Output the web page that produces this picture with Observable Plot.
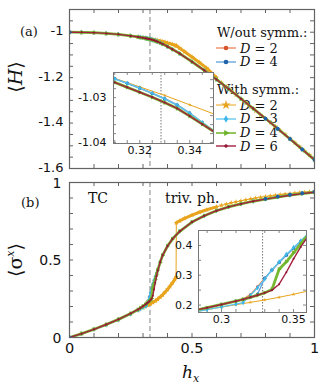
<!DOCTYPE html>
<html><head><meta charset="utf-8">
<script src="https://cdn.jsdelivr.net/npm/d3@7"></script>
<script src="https://cdn.jsdelivr.net/npm/@observablehq/plot@0.6"></script>
<style>
body{margin:0;background:#fff;}
#c{position:relative;width:327px;height:390px;overflow:hidden;background:#fff;}
.pw{position:absolute;}
.t{position:absolute;white-space:nowrap;font-family:"DejaVu Serif",serif;color:#111;line-height:1;}
.rot{transform:translate(-50%,-50%) rotate(-90deg);}
</style></head><body><div id="c"></div>
<script>
// ---------------- data ----------------
const hx = [0,0.05,0.1,0.15,0.2,0.25,0.28,0.29,0.3,0.31,0.315,0.32,0.325,0.33,0.335,0.34,0.345,0.35,0.355,0.36,0.37,0.38,0.4,0.42,0.45,0.5,0.55,0.6,0.65,0.7,0.75,0.8,0.85,0.9,0.95,1.0];

// <sigma^x>
const sxD6 = [0,0.025,0.053,0.084,0.117,0.155,0.181,0.191,0.202,0.213,0.219,0.226,0.233,0.241,0.25,0.27,0.31,0.355,0.395,0.43,0.485,0.53,0.59,0.635,0.685,0.745,0.785,0.818,0.843,0.862,0.879,0.893,0.906,0.918,0.928,0.937];
const sxD4 = [0,0.025,0.053,0.084,0.117,0.155,0.181,0.191,0.202,0.213,0.219,0.226,0.233,0.241,0.252,0.32,0.345,0.375,0.405,0.435,0.485,0.53,0.59,0.635,0.685,0.745,0.785,0.818,0.843,0.862,0.879,0.893,0.906,0.918,0.928,0.937];
const sxD3 = [0,0.025,0.052,0.082,0.114,0.151,0.176,0.185,0.194,0.203,0.208,0.232,0.258,0.287,0.317,0.345,0.37,0.393,0.415,0.438,0.485,0.53,0.59,0.635,0.685,0.745,0.785,0.818,0.843,0.862,0.879,0.894,0.908,0.92,0.93,0.938];
const sxW2 = [0,0.025,0.053,0.084,0.117,0.155,0.181,0.191,0.202,0.213,0.22,0.235,0.262,0.29,0.316,0.342,0.367,0.39,0.413,0.437,0.485,0.53,0.59,0.635,0.685,0.745,0.785,0.818,0.843,0.862,0.879,0.893,0.906,0.918,0.928,0.937];
const sxW4 = [0,0.025,0.053,0.084,0.117,0.155,0.181,0.191,0.202,0.213,0.219,0.226,0.236,0.29,0.318,0.343,0.367,0.39,0.413,0.437,0.485,0.53,0.59,0.635,0.685,0.745,0.785,0.818,0.843,0.862,0.879,0.895,0.909,0.921,0.931,0.939];

// <H>
const eD6 = [-1.0,-1.0006,-1.002,-1.0053,-1.0095,-1.0162,-1.021,-1.0228,-1.0246,-1.0266,-1.0277,-1.0288,-1.0299,-1.0311,-1.0324,-1.0341,-1.0359,-1.0377,-1.0398,-1.042,-1.0466,-1.0517,-1.063,-1.0752,-1.094,-1.13,-1.168,-1.208,-1.25,-1.293,-1.336,-1.38,-1.425,-1.47,-1.516,-1.562];
const eD4 = [-1.0,-1.0006,-1.002,-1.0053,-1.0095,-1.0162,-1.021,-1.0228,-1.0246,-1.0266,-1.0277,-1.0288,-1.0299,-1.0311,-1.0324,-1.0341,-1.0359,-1.0377,-1.0398,-1.042,-1.0466,-1.0517,-1.063,-1.0752,-1.094,-1.13,-1.168,-1.208,-1.25,-1.293,-1.336,-1.38,-1.425,-1.47,-1.516,-1.562];
const eD3 = [-1.0,-1.0006,-1.002,-1.0053,-1.0095,-1.0162,-1.0207,-1.0224,-1.0241,-1.0258,-1.0268,-1.0279,-1.029,-1.0302,-1.0316,-1.0334,-1.0355,-1.0375,-1.0397,-1.042,-1.0466,-1.0517,-1.063,-1.0752,-1.094,-1.13,-1.168,-1.208,-1.25,-1.293,-1.336,-1.38,-1.425,-1.47,-1.516,-1.562];
const eW2 = [-1.0,-1.0006,-1.002,-1.0053,-1.0095,-1.0162,-1.0207,-1.0224,-1.0241,-1.0258,-1.0268,-1.0279,-1.029,-1.0302,-1.0316,-1.0334,-1.0355,-1.0375,-1.0397,-1.042,-1.0466,-1.0517,-1.063,-1.0752,-1.094,-1.13,-1.168,-1.208,-1.25,-1.293,-1.336,-1.38,-1.425,-1.47,-1.516,-1.562];
const eW4 = [-1.0,-1.0006,-1.002,-1.0053,-1.0095,-1.0162,-1.0207,-1.0224,-1.0241,-1.0258,-1.0268,-1.0279,-1.0291,-1.0303,-1.0317,-1.0335,-1.0356,-1.0376,-1.0397,-1.042,-1.0466,-1.0517,-1.063,-1.0752,-1.094,-1.13,-1.168,-1.208,-1.25,-1.293,-1.336,-1.38,-1.425,-1.47,-1.516,-1.562];

// D = 2 with symmetry (own grid, hysteresis jump)
const hxGold = [0,0.05,0.1,0.15,0.2,0.25,0.28,0.3,0.31,0.32,0.33,0.34,0.35,0.36,0.37,0.38,0.39,0.4,0.41,0.42,0.43,0.435,0.436,0.45,0.47,0.5,0.53,0.56,0.6,0.62,0.64,0.66,0.68,0.7,0.72,0.74,0.76,0.78,0.8,0.82,0.84,0.86,0.88,0.9,0.92,0.94,0.96,0.98,1.0];
const sxGold = [0,0.025,0.053,0.083,0.115,0.152,0.176,0.193,0.201,0.209,0.217,0.226,0.236,0.247,0.26,0.275,0.292,0.31,0.33,0.352,0.375,0.39,0.74,0.752,0.768,0.79,0.808,0.824,0.843,0.852,0.86,0.868,0.875,0.882,0.888,0.894,0.899,0.904,0.909,0.913,0.917,0.921,0.925,0.928,0.931,0.934,0.937,0.94,0.942];
const eGold = [-1.0,-1.0006,-1.002,-1.0053,-1.0095,-1.016,-1.0207,-1.0242,-1.0257,-1.0276,-1.0295,-1.0316,-1.0337,-1.036,-1.0385,-1.0412,-1.044,-1.047,-1.0502,-1.0537,-1.0573,-1.0592,-1.06,-1.0705,-1.0858,-1.109,-1.133,-1.158,-1.2,-1.222,-1.24,-1.258,-1.276,-1.294,-1.312,-1.33,-1.347,-1.364,-1.381,-1.398,-1.415,-1.433,-1.45,-1.468,-1.486,-1.504,-1.522,-1.54,-1.559];

const hCrit = 0.3285;

// tick labels
const ticksA_y = [-1.6,-1.4,-1.2,-1];
const ticksB_y = [0,0.5,1];
const ticksB_x = [0,0.5,1];
const insetA_x = [0.32,0.34];
const insetA_y = [-1.04,-1.03];
const insetB_x = [0.3,0.35];
const insetB_y = [0.2,0.3,0.4];

// legend labels
const legendWout = ["2","4"];
const legendWith = ["2","3","4","6"];

// ---------------- styles ----------------
const ST = {
  W2:{line:"#ea7a50", fill:"#d8532a", w:1.2, sym:"circle", r:1.4},
  W4:{line:"#6aa6da", fill:"#1e62aa", w:1.4, sym:"circle", r:1.9},
  G2:{line:"#e8a41c", fill:"#e8a41c", w:1.0, sym:"star", r:1.7},
  D3:{line:"#5cc4ef", fill:"#3db6ea", w:1.3, sym:"diamond", r:1.6},
  D4:{line:"#78b932", fill:"#6cb22a", w:2.8, sym:"triangle", r:1.7, rot:90},
  D6:{line:"#a3203f", fill:"#8f1733", w:1.4, sym:"circle", r:1.0}
};
const rows = (xs, ys) => xs.map((x,i)=>({x, y: ys[i]}));
const sx = {W2:rows(hx,sxW2), W4:rows(hx,sxW4), D3:rows(hx,sxD3), D4:rows(hx,sxD4), D6:rows(hx,sxD6), G2:rows(hxGold,sxGold)};
const en = {W2:rows(hx,eW2), W4:rows(hx,eW4), D3:rows(hx,eD3), D4:rows(hx,eD4), D6:rows(hx,eD6), G2:rows(hxGold,eGold)};

function lineMarks(key, data, {marker=true, scaleR=1}={}){
  const s = ST[key];
  const m = [Plot.line(data,{x:"x",y:"y",stroke:s.line,strokeWidth:s.w,clip:true})];
  if (marker) m.push(Plot.dot(data,{x:"x",y:"y",symbol:s.sym,r:s.r*scaleR,fill:s.fill,stroke:"none",rotate:s.rot||0,clip:true}));
  return m;
}
function goldThick(data){
  const s = ST.G2;
  return [
    Plot.line(data.filter(d=>d.x>=0.31&&d.x<=0.435),{x:"x",y:"y",stroke:s.line,strokeWidth:3,clip:true}),
    Plot.line(data.filter(d=>d.x>=0.436&&d.x<=0.6),{x:"x",y:"y",stroke:s.line,strokeWidth:3,clip:true})
  ];
}
function allCurves(D, opts){
  return [
    ...lineMarks("G2", D.G2, opts), ...goldThick(D.G2),
    ...lineMarks("W2", D.W2, opts),
    ...lineMarks("W4", D.W4, {...opts, marker:false}),
    ...lineMarks("D3", D.D3, opts),
    ...lineMarks("D4", D.D4, opts),
    ...lineMarks("D6", D.D6, opts),
    Plot.dot(D.W4.filter(d=>d.x>=0.8||d.x===0),{x:"x",y:"y",r:ST.W4.r,fill:ST.W4.fill,clip:true})
  ];
}
// inward ticks on all four sides
function frameTicks(xt, yt, fw, fh, len, color){
  return [
    Plot.tickX(xt,{x:d=>d,insetTop:fh-len,stroke:color}),
    Plot.tickX(xt,{x:d=>d,insetBottom:fh-len,stroke:color}),
    Plot.tickY(yt,{y:d=>d,insetRight:fw-len,stroke:color}),
    Plot.tickY(yt,{y:d=>d,insetLeft:fw-len,stroke:color})
  ];
}
const FRAME = "#626262";
const root = document.getElementById("c");
function place(el, left, top){
  const d = document.createElement("div"); d.className="pw";
  d.style.left = left+"px"; d.style.top = top+"px";
  d.appendChild(el); root.appendChild(d);
}
function text(html, left, top, size, extra=""){
  const d = document.createElement("div"); d.className="t";
  d.style.cssText += `left:${left}px;top:${top}px;font-size:${size}px;${extra}`;
  d.innerHTML = html; root.appendChild(d); return d;
}

// ---------------- legend (under the curves) ----------------
(function legend(){
  const colsW = ["W2","W4"], colsS = ["G2","D3","D4","D6"];
  function row(key, lab, y){
    const s = ST[key];
    const svg = d3.create("svg").attr("width",24).attr("height",12)
      .style("position","absolute").style("left","215px").style("top",(y-6)+"px");
    svg.append("line").attr("x1",1).attr("x2",21).attr("y1",6).attr("y2",6).attr("stroke",s.line).attr("stroke-width",Math.min(s.w,1.6));
    const symMap = {circle:d3.symbolCircle, star:d3.symbolStar, diamond:d3.symbolDiamond, triangle:d3.symbolTriangle};
    const r = key==="G2"?3.0:(key==="D6"?1.7:2.3);
    svg.append("path").attr("d", d3.symbol(symMap[s.sym], Math.PI*r*r)()).attr("fill",s.fill)
      .attr("transform",`translate(11,6) rotate(${s.rot||0})`);
    root.appendChild(svg.node());
    text(`<i>D</i> = ${lab}`, 240, y-6.5, 13);
  }
  text("W/out symm.:", 217, 26, 13);
  legendWout.forEach((l,i)=>row(colsW[i], l, 48 + i*13.5));
  text("With symm.:", 217, 83, 13);
  legendWith.forEach((l,i)=>row(colsS[i], l, 105 + i*13.8));
})();

// ---------------- panel (a) ----------------
const pa = Plot.plot({
  width:327, height:175, marginLeft:69, marginRight:13, marginTop:9, marginBottom:7,
  style:{background:"none", overflow:"visible"},
  x:{domain:[0,1], axis:null}, y:{domain:[-1.6,-0.9], axis:null},
  marks:[
    Plot.ruleX([hCrit],{stroke:"#858585",strokeDasharray:"5,3",strokeWidth:1}),
    ...frameTicks(d3.range(0,1.0001,0.1), d3.range(-1.6,-0.899,0.05), 245, 159, 4, FRAME),
    ...allCurves(en,{scaleR:1}),
    Plot.frame({stroke:FRAME, strokeWidth:1.2}),
    Plot.text(ticksA_y,{y:d=>d,text:d=>String(d),frameAnchor:"left",dx:-6,dy:-1,textAnchor:"end",fontSize:13,fontFamily:"DejaVu Sans",fill:"#111"})
  ]
});
place(pa, 0, 0);

// ---------------- panel (b) ----------------
const pb = Plot.plot({
  width:327, height:215, marginLeft:69, marginRight:13, marginTop:7, marginBottom:53,
  style:{background:"none", overflow:"visible"},
  x:{domain:[0,1], axis:null}, y:{domain:[0,1], axis:null},
  marks:[
    Plot.ruleX([hCrit],{stroke:"#858585",strokeDasharray:"5,3",strokeWidth:1}),
    ...frameTicks(d3.range(0,1.0001,0.1), d3.range(0,1.0001,0.1), 245, 155, 4, FRAME),
    ...allCurves(sx,{scaleR:1}),
    Plot.frame({stroke:FRAME, strokeWidth:1.2}),
    Plot.text(ticksB_y,{y:d=>d,text:d=>String(d),frameAnchor:"left",dx:-8,dy:1,textAnchor:"end",fontSize:14,fontFamily:"DejaVu Sans",fill:"#111"}),
    Plot.text(ticksB_x,{x:d=>d,text:d=>String(d),frameAnchor:"bottom",dy:15,fontSize:14.5,fontFamily:"DejaVu Sans",fill:"#111"})
  ]
});
place(pb, 0, 175);

// ---------------- inset (a) ----------------
const ia = Plot.plot({
  width:140, height:95, marginLeft:33, marginRight:7, marginTop:7, marginBottom:17,
  style:{background:"none", overflow:"visible"},
  x:{domain:[0.3095,0.3495], axis:null}, y:{domain:[-1.0402,-1.0244], axis:null},
  marks:[
    Plot.frame({fill:"white"}),
    Plot.ruleX([hCrit],{stroke:"#777",strokeDasharray:"1.5,1.5",strokeWidth:1}),
    ...frameTicks(d3.range(0.31,0.3496,0.005), d3.range(-1.04,-1.0243,0.002), 100, 71, 3, "#888"),
    ...lineMarks("G2", en.G2, {scaleR:0.7}),
    ...lineMarks("W2", en.W2, {scaleR:1}),
    ...lineMarks("W4", en.W4, {scaleR:0.9}),
    ...lineMarks("D3", en.D3, {scaleR:1}),
    ...lineMarks("D4", en.D4, {scaleR:1}),
    ...lineMarks("D6", en.D6, {scaleR:1}),
    Plot.frame({stroke:"#777", strokeWidth:1}),
    Plot.text(insetA_y,{y:d=>d,text:d=>String(d),frameAnchor:"left",dx:-7,textAnchor:"end",fontSize:11,fontFamily:"DejaVu Sans",fill:"#111"}),
    Plot.text(insetA_x,{x:d=>d,text:d=>String(d),frameAnchor:"bottom",dy:10,fontSize:11,fontFamily:"DejaVu Sans",fill:"#111"})
  ]
});
place(ia, 80, 65);

// ---------------- inset (b) ----------------
const ib = Plot.plot({
  width:145, height:108, marginLeft:28, marginRight:9, marginTop:8, marginBottom:18,
  style:{background:"none", overflow:"visible"},
  x:{domain:[0.284,0.359], axis:null}, y:{domain:[0.175,0.45], axis:null},
  marks:[
    Plot.frame({fill:"white"}),
    Plot.ruleX([hCrit],{stroke:"#777",strokeDasharray:"1.5,1.5",strokeWidth:1}),
    ...frameTicks(d3.range(0.29,0.359,0.01), d3.range(0.2,0.451,0.05), 108, 82, 3, "#888"),
    ...lineMarks("G2", sx.G2, {scaleR:0.7}),
    ...lineMarks("W2", sx.W2, {scaleR:1}),
    ...lineMarks("W4", sx.W4, {scaleR:0.9}),
    ...lineMarks("D3", sx.D3, {scaleR:1}),
    ...lineMarks("D4", sx.D4, {scaleR:1}),
    ...lineMarks("D6", sx.D6, {scaleR:1}),
    Plot.frame({stroke:"#777", strokeWidth:1}),
    Plot.text(insetB_y,{y:d=>d,text:d=>String(d),frameAnchor:"left",dx:-6,textAnchor:"end",fontSize:11,fontFamily:"DejaVu Sans",fill:"#111"}),
    Plot.text(insetB_x,{x:d=>d,text:d=>String(d),frameAnchor:"bottom",dy:10,fontSize:11,fontFamily:"DejaVu Sans",fill:"#111"})
  ]
});
place(ib, 170, 222);

// ---------------- text labels ----------------
text("(a)", 20, 25, 13);
text("(b)", 21, 196, 13);
text("TC", 88, 191, 14);
text("triv. ph.", 165, 191, 14);
text("⟨<i>H</i>⟩", 15, 77, 19, "").classList.add("rot");
text("⟨σ<sup style='font-size:11px;font-style:italic'>x</sup>⟩", 15, 260, 19).classList.add("rot");
text("<i>h</i><sub style='font-size:11px;font-style:italic'>x</sub>", 182, 364, 17);
</script></body></html>
